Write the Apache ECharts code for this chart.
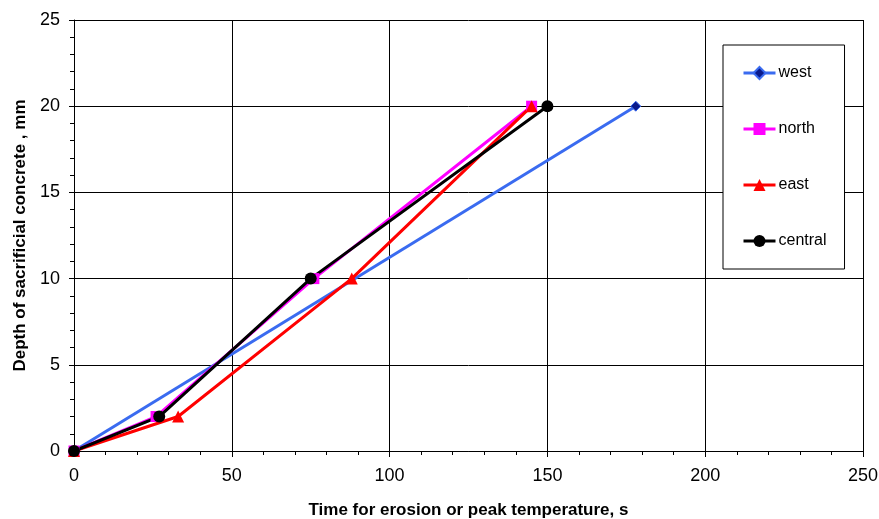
<!DOCTYPE html>
<html>
<head>
<meta charset="utf-8">
<script src="https://cdn.jsdelivr.net/npm/echarts@6/dist/echarts.min.js"></script>
<style>html,body{margin:0;padding:0;background:#fff;}#c{width:879px;height:519px;}</style>
</head>
<body>
<div id="c"></div>
<script>
const seriesNames = ['west', 'north', 'east', 'central'];
const westData = [[0, 0], [178, 20]];
const northData = [[0, 0], [26, 2], [76, 10], [145, 20]];
const eastData = [[0, 0], [33, 2], [88, 10], [145, 20]];
const centralData = [[0, 0], [27, 2], [75, 10], [150, 20]];
const xTitle = 'Time for erosion or peak temperature, s';
const yTitle = 'Depth of sacrificial concrete , mm';

const font = 'Arial, "Liberation Sans", sans-serif';
const chart = echarts.init(document.getElementById('c'), null, {renderer: 'canvas'});
function mk(name, data, color, symbol, size, itemStyle) {
  return {
    name: name, type: 'line', data: data, symbol: symbol, symbolSize: size,
    lineStyle: {color: color, width: 3},
    itemStyle: itemStyle || {color: color},
    animation: false, z: 3
  };
}
chart.setOption({
  animation: false,
  backgroundColor: '#fff',
  grid: {left: 74, right: 16, top: 20, bottom: 68, outerBoundsMode: 'none', containLabel: false},
  legend: {
    orient: 'vertical', left: 723, top: 45,
    padding: [19, 18, 19, 19],
    itemGap: 38, itemWidth: 32, itemHeight: 15,
    backgroundColor: '#fff', borderColor: '#000', borderWidth: 1,
    lineStyle: {width: 3},
    textStyle: {fontFamily: font, fontSize: 16, color: '#000', lineHeight: 18, padding: [0,0,0,-2]},
    data: seriesNames
  },
  xAxis: {
    type: 'value', min: 0, max: 250, interval: 50,
    name: xTitle, nameLocation: 'middle', nameGap: 51,
    nameTextStyle: {fontFamily: font, fontSize: 17, fontWeight: 'bold', color: '#000'},
    axisLine: {show: true, onZero: false, lineStyle: {color: '#000', width: 1}},
    axisTick: {show: true, inside: false, length: 6, lineStyle: {color: '#000'}},
    minorTick: {show: true, splitNumber: 5, length: 4, lineStyle: {color: '#000'}},
    axisLabel: {fontFamily: font, fontSize: 18, color: '#000', margin: 16},
    splitLine: {show: true, lineStyle: {color: '#000', width: 1}}
  },
  yAxis: {
    type: 'value', min: 0, max: 25, interval: 5,
    name: yTitle, nameLocation: 'middle', nameGap: 37, nameRotate: 90,
    nameTextStyle: {fontFamily: font, fontSize: 17, fontWeight: 'bold', color: '#000'},
    axisLine: {show: true, onZero: false, lineStyle: {color: '#000', width: 1}},
    axisTick: {show: true, inside: false, length: 5, lineStyle: {color: '#000'}},
    minorTick: {show: true, splitNumber: 5, length: 4, lineStyle: {color: '#000'}},
    axisLabel: {fontFamily: font, fontSize: 18, color: '#000', margin: 14},
    splitLine: {show: true, lineStyle: {color: '#000', width: 1}}
  },
  series: [
    mk('west', westData, '#3A6BF0', 'diamond', 10, {color: '#0A1A8C', borderColor: '#3A6BF0', borderWidth: 1}),
    mk('north', northData, '#FF00FF', 'rect', 11),
    mk('east', eastData, '#FF0000', 'triangle', 12),
    mk('central', centralData, '#000000', 'circle', 12)
  ]
});
</script>
</body>
</html>
